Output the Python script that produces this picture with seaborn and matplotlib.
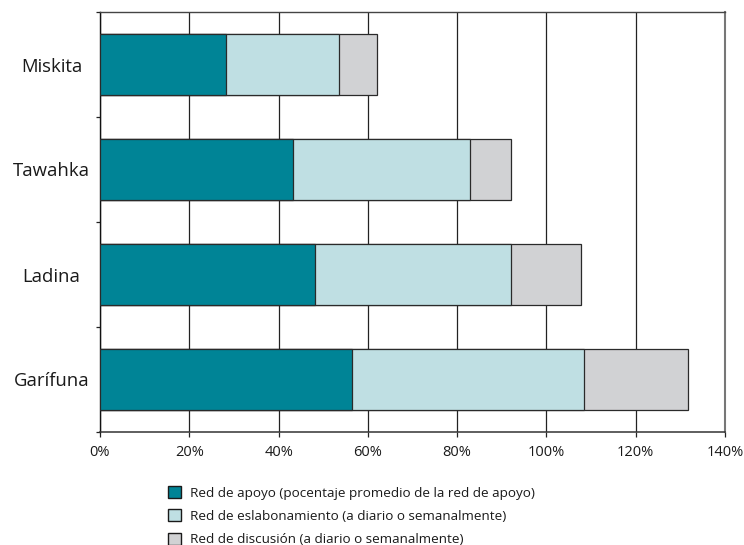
import numpy as np
import pandas as pd
import matplotlib
matplotlib.use("Agg")
import matplotlib.pyplot as plt
import seaborn as sns
from matplotlib.patches import Patch
from matplotlib.ticker import FuncFormatter

# Datos por grupo étnico (porcentajes)
grupos = ["Miskita", "Tawahka", "Ladina", "Garífuna"]
apoyo = [28.2, 43.2, 48.2, 56.5]
eslabonamiento = [25.3, 39.6, 43.8, 51.9]
discusion = [8.6, 9.3, 15.8, 23.4]
series = [
    "Red de apoyo (pocentaje promedio de la red de apoyo)",
    "Red de eslabonamiento (a diario o semanalmente)",
    "Red de discusión (a diario o semanalmente)",
]
colores = ["#008496", "#bfdfe3", "#d1d2d4"]

sns.set_theme(style="white")
plt.rcParams["font.family"] = ["Open Sans", "DejaVu Sans"]

df = pd.DataFrame({"grupo": grupos, "apoyo": apoyo,
                   "eslab": eslabonamiento, "disc": discusion})
df["hasta_eslab"] = df["apoyo"] + df["eslab"]
df["total"] = df["hasta_eslab"] + df["disc"]

fig = plt.figure(figsize=(7.44, 5.45), dpi=100)
ax = fig.add_axes([100 / 744, 1 - 432 / 545, 625 / 744, 420 / 545])

# Barras apiladas: se dibuja de la suma total hacia el primer tramo
for col, color in [("total", colores[2]), ("hasta_eslab", colores[1]), ("apoyo", colores[0])]:
    sns.barplot(data=df, x=col, y="grupo", orient="h", color=color, saturation=1,
                width=0.585, edgecolor="#2a2a2a", linewidth=0.9, errorbar=None,
                ax=ax, zorder=3)

ax.set_xlim(0, 140)
ax.set_xticks(range(0, 141, 20))
ax.xaxis.set_major_formatter(FuncFormatter(lambda v, p: f"{int(v)}%"))
ax.xaxis.grid(True, color="#222222", linewidth=0.9)
ax.yaxis.grid(False)
ax.set_axisbelow(True)

ax.set_ylim(3.5, -0.5)
ax.set_yticks(range(len(grupos)))
ax.set_yticklabels(grupos, fontsize=13.3, color="#1a1a1a", ha="center")
ax.set_yticks(np.arange(-0.5, len(grupos), 1), minor=True)
ax.tick_params(axis="y", which="major", length=0, pad=35)
ax.tick_params(axis="y", which="minor", left=True, length=3, width=0.9,
               color="#222222", direction="out")
ax.tick_params(axis="x", which="major", bottom=True, length=3.6, width=0.9,
               color="#222222", direction="out", pad=6, labelsize=10.5,
               labelcolor="#1a1a1a")
ax.set_xlabel("")
ax.set_ylabel("")

ax.spines["left"].set_color("#111111")
ax.spines["left"].set_linewidth(1.0)
ax.spines["bottom"].set_color("#333333")
ax.spines["bottom"].set_linewidth(1.1)
ax.spines["top"].set_color("#444444")
ax.spines["top"].set_linewidth(1.0)
ax.spines["right"].set_color("#777777")
ax.spines["right"].set_linewidth(1.5)

handles = [Patch(facecolor=c, edgecolor="#1a1a1a", linewidth=1.0) for c in colores]
fig.legend(handles, series, loc="upper left",
           bbox_to_anchor=(168 / 744, 1 - 486 / 545), frameon=False,
           fontsize=9.7, handlelength=1.0, handleheight=1.0, handletextpad=0.6,
           labelspacing=0.72, borderpad=0, borderaxespad=0,
           labelcolor="#1a1a1a")

fig.savefig("out.png", dpi=100)
